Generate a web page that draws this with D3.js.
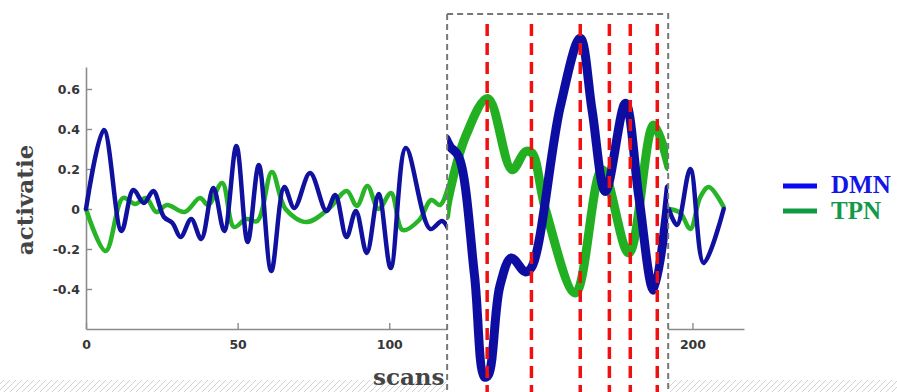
<!DOCTYPE html>
<html>
<head>
<meta charset="utf-8">
<script src="https://cdn.jsdelivr.net/npm/d3@7"></script>
<style>
  html, body { margin: 0; padding: 0; background: #fff; }
  svg { display: block; }
</style>
</head>
<body>
<svg id="chart" width="897" height="392"></svg>
<script>
// Main traces: scan number and activation. null = part hidden under the zoom box.
const dmnScans  = [0, 5.9, 11.7, 15.6, 19.1, 22.2, 25.7, 28.5, 31.2, 34.7, 38, 42, 45.6, 49.6, 53.3, 57, 61.1, 65.4, 68.7, 73.9, 79.3, 82.2, 85.9, 89, 92.6, 96.5, 100.5, 105.5, 113.5, 117.4, 119.5, 150, 192.2, 194.9, 199.3, 203.7, 210.3];
const dmnValues = [0, 0.395, -0.11, 0.095, 0.03, 0.09, -0.04, -0.07, -0.14, -0.05, -0.15, 0.105, -0.11, 0.315, -0.165, 0.22, -0.31, 0.11, 0.005, 0.18, -0.01, 0.07, -0.14, -0.01, -0.22, 0.075, -0.295, 0.305, -0.1, -0.06, -0.1, null, 0.0, -0.08, 0.2, -0.27, 0.0];

const tpnScans  = [0, 6.5, 12.2, 16.2, 19.8, 23.2, 26.7, 32.5, 37.6, 40.3, 44.9, 48.8, 52.8, 56.5, 61.3, 65.8, 72.8, 80, 86, 89.3, 92.8, 96.5, 100.6, 104.4, 109.9, 113.8, 116.8, 119.6, 150, 192.4, 196, 199.3, 202.6, 205.4, 210.3];
const tpnValues = [0, -0.21, 0.055, 0.025, 0.055, -0.015, 0.02, -0.015, 0.055, 0.02, 0.13, -0.09, -0.05, -0.06, 0.185, 0.0, -0.065, 0.0, 0.09, 0.015, 0.115, 0.0, 0.08, -0.105, -0.055, 0.045, 0.02, 0.12, null, 0.0, -0.02, -0.1, 0.06, 0.11, 0.01];

// Enlarged window (scans 119-192), shown with a stretched activation axis.
const zoomRange = [119.1, 192];
const zoomDmnScans  = [118.8, 120.1, 122.9, 128.1, 131.4, 132.7, 136.5, 140.3, 144.9, 147.1, 156.4, 163, 166.9, 171.3, 177.9, 182.3, 187.2, 192.3];
const zoomDmnValues = [0.1, 0.089, 0.075, -0.094, -0.24, -0.237, -0.11, -0.07, -0.09, -0.082, 0.146, 0.244, 0.141, 0.025, 0.151, 0.018, -0.116, 0.03];
const zoomTpnScans  = [118.6, 119.4, 125.3, 132.5, 140.5, 144.9, 147.1, 151.5, 161.4, 170.2, 179, 187.2, 192.2];
const zoomTpnValues = [-0.01, 0.013, 0.105, 0.158, 0.056, 0.082, 0.08, 0.0, -0.12, 0.056, -0.063, 0.12, 0.06];

// Red markers in the enlarged window.
const markerScans = [132.3, 146.9, 163, 172.6, 179.5, 188.4];

const xTicks = [0, 50, 100, 150, 200];
const yTicks = [-0.4, -0.2, 0, 0.2, 0.4, 0.6];
const seriesNames = ["DMN", "TPN"];

const svg = d3.select("#chart");
const W = +svg.attr("width"), H = +svg.attr("height");
const margin = { top: 67, right: 153, bottom: 63, left: 86 };
const width = W - margin.left - margin.right;
const height = H - margin.top - margin.bottom;

const x = d3.scaleLinear().domain([0, 217]).range([0, width]);
const y = d3.scaleLinear().domain([-0.6, 0.71]).range([height, 0]);
// zoom box stretches activation 3.5x around zero
const yZoom = d3.scaleLinear().domain([-0.2, 0.2]).range([y(0) + 140, y(0) - 140]);

const defs = svg.append("defs");

// Hatched strip along the bottom.
const hatch = defs.append("pattern")
    .attr("id", "hatch")
    .attr("patternUnits", "userSpaceOnUse")
    .attr("width", 6).attr("height", 6);
hatch.append("path")
    .attr("d", "M-1,7 L7,-1 M-1,1 L1,-1 M5,7 L7,5")
    .attr("stroke", "#d2d2d2")
    .attr("stroke-width", 1);
svg.append("rect")
    .attr("x", 0).attr("y", 380)
    .attr("width", W).attr("height", 12)
    .attr("fill", "url(#hatch)");

const g = svg.append("g")
    .attr("transform", `translate(${margin.left},${margin.top})`);

// Axes, MATLAB style with inward ticks.
const xAxis = g.append("g")
    .attr("transform", `translate(0,${height})`)
    .call(d3.axisBottom(x).tickValues(xTicks).tickSizeInner(-6).tickSizeOuter(0).tickPadding(11));
const yAxis = g.append("g")
    .call(d3.axisLeft(y).tickValues(yTicks).tickSizeInner(-6).tickSizeOuter(0).tickPadding(6)
        .tickFormat(d => d === 0 ? "0" : d.toFixed(1)));

[xAxis, yAxis].forEach(a => {
    a.select(".domain").attr("stroke", "#8c8c8c").attr("stroke-width", 1.6);
    a.selectAll(".tick line").attr("stroke", "#8c8c8c").attr("stroke-width", 1.4);
    a.selectAll(".tick text")
        .attr("fill", "#363636")
        .attr("font-family", "'DejaVu Sans', sans-serif")
        .attr("font-weight", "bold")
        .attr("font-size", 12.5);
});

const line = (yScale) => d3.line()
    .defined(d => d[1] !== null)
    .x(d => x(d[0]))
    .y(d => yScale(d[1]))
    .curve(d3.curveCatmullRom.alpha(0.5));

const pairs = (xs, vs) => xs.map((s, i) => [s, vs[i]]);

g.append("path")
    .datum(pairs(tpnScans, tpnValues))
    .attr("fill", "none")
    .attr("stroke", "#27b427")
    .attr("stroke-width", 4.5)
    .attr("stroke-linejoin", "round")
    .attr("stroke-linecap", "round")
    .attr("d", line(y));

g.append("path")
    .datum(pairs(dmnScans, dmnValues))
    .attr("fill", "none")
    .attr("stroke", "#1111a0")
    .attr("stroke-width", 4.5)
    .attr("stroke-linejoin", "round")
    .attr("stroke-linecap", "round")
    .attr("d", line(y));

// Axis titles.
svg.append("text")
    .attr("transform", "translate(33,200) rotate(-90)")
    .attr("text-anchor", "middle")
    .attr("font-family", "'DejaVu Serif', serif")
    .attr("font-weight", "bold")
    .attr("font-size", 23)
    .attr("fill", "#444")
    .text("activatie");

svg.append("text")
    .attr("x", 373).attr("y", 385)
    .attr("font-family", "'DejaVu Serif', serif")
    .attr("font-weight", "bold")
    .attr("font-size", 23)
    .attr("fill", "#444")
    .text("scans");

// Zoom box.
const bx0 = margin.left + x(zoomRange[0]);
const bx1 = margin.left + x(zoomRange[1]);
const boxTop = 14;

defs.append("clipPath").attr("id", "zoomclip")
    .append("rect")
    .attr("x", bx0).attr("y", boxTop)
    .attr("width", bx1 - bx0).attr("height", H - boxTop + 10);

defs.append("filter").attr("id", "soft")
    .append("feGaussianBlur").attr("stdDeviation", 0.7);

svg.append("rect")
    .attr("x", bx0).attr("y", boxTop)
    .attr("width", bx1 - bx0).attr("height", H)
    .attr("fill", "#fff");

const zg = svg.append("g")
    .attr("clip-path", "url(#zoomclip)")
    .append("g")
    .attr("transform", `translate(${margin.left},${margin.top})`)
    .attr("filter", "url(#soft)");

zg.append("path")
    .datum(pairs(zoomTpnScans, zoomTpnValues))
    .attr("fill", "none")
    .attr("stroke", "#21b021")
    .attr("stroke-width", 9)
    .attr("stroke-linejoin", "round")
    .attr("stroke-linecap", "round")
    .attr("d", line(yZoom));

zg.append("path")
    .datum(pairs(zoomDmnScans, zoomDmnValues))
    .attr("fill", "none")
    .attr("stroke", "#0c0ca2")
    .attr("stroke-width", 9)
    .attr("stroke-linejoin", "round")
    .attr("stroke-linecap", "round")
    .attr("d", line(yZoom));

svg.append("g").selectAll("line")
    .data(markerScans)
    .join("line")
    .attr("x1", d => margin.left + x(d)).attr("x2", d => margin.left + x(d))
    .attr("y1", 24).attr("y2", H)
    .attr("stroke", "#f01010")
    .attr("stroke-width", 3.5)
    .attr("stroke-dasharray", "12,7");

svg.append("rect")
    .attr("x", bx0).attr("y", boxTop)
    .attr("width", bx1 - bx0).attr("height", H)
    .attr("fill", "none")
    .attr("stroke", "#777")
    .attr("stroke-width", 2)
    .attr("stroke-dasharray", "6,4");

// Legend.
const legendColors = { DMN: ["#0a0af2", "#1515e6"], TPN: ["#0e9a40", "#12994a"] };
const legend = svg.append("g").attr("transform", "translate(783,186)");
const item = legend.selectAll("g")
    .data(seriesNames)
    .join("g")
    .attr("transform", (d, i) => `translate(0,${i * 25})`);
item.append("line")
    .attr("x1", 0).attr("x2", 34)
    .attr("stroke", d => legendColors[d][0])
    .attr("stroke-width", 5);
item.append("text")
    .attr("x", 48).attr("y", (d, i) => 7 + i * 1)
    .attr("font-family", "'Liberation Serif', 'Times New Roman', serif")
    .attr("font-weight", "bold")
    .attr("font-size", 25)
    .attr("fill", d => legendColors[d][1])
    .text(d => d);
</script>
</body>
</html>
